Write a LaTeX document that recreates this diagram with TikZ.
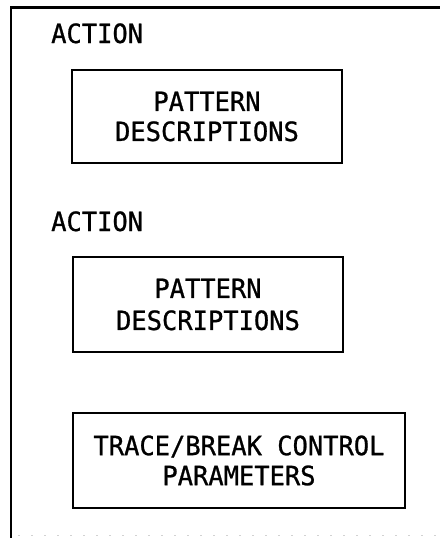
\documentclass[tikz,border=0pt]{standalone}
\usepackage{fontspec}
\setmonofont[FakeStretch=0.96,FakeBold=0.9]{DejaVu Sans Mono}
\begin{document}
\begin{tikzpicture}[x=1pt,y=-1pt,
  frameline/.style={line width=2.8pt},
  label/.style={font=\ttfamily\fontsize{26.5}{30}\selectfont, inner sep=0pt, anchor=base west},
  databox/.style={draw, line width=2.6pt, inner sep=0pt, align=center,
    font=\ttfamily\fontsize{26.5}{30}\selectfont}
]
\useasboundingbox (0,0) rectangle (440,538);

% open frame: left and top edges, faint bottom edge
\coordinate (fbl) at (11,538);
\coordinate (ftl) at (11,7.5);
\coordinate (ftr) at (440,7.5);
\draw[frameline] (fbl) -- (ftl) -- (ftr);
\coordinate (bl) at (18,535);
\coordinate (br) at (440,535);
\draw[gray!35, line width=0.8pt, dash pattern=on 2pt off 11pt] (bl) -- (br);

% first action
\node[label] (act1) at (51,43) {ACTION};
\node[databox, minimum width=270, minimum height=93] (pd1) at (207,116.5)
  {PATTERN\\DESCRIPTIONS};

% second action
\node[label] (act2) at (51,231) {ACTION};
\node[databox, minimum width=270, minimum height=95] (pd2) at (208,304.5)
  {PATTERN\\[2pt]DESCRIPTIONS};

% control parameters
\node[databox, minimum width=332, minimum height=95] (tbc) at (239,460.5)
  {TRACE/BREAK CONTROL\\PARAMETERS};
\end{tikzpicture}
\end{document}
